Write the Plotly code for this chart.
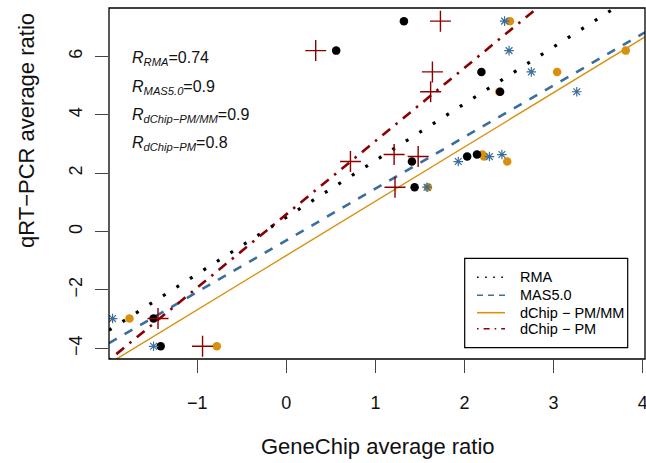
import plotly.graph_objects as go

# ---- data ----
qpcr = [7.21, 6.20, 5.47, 4.79, 2.64, 2.57, 2.40, 1.52, -2.98, -3.93]
rma = [1.32, 0.56, 2.19, 2.40, 2.14, 2.03, 1.41, 1.44, -1.49, -1.41]
mas5 = [2.45, 2.50, 2.75, 3.26, 2.42, 2.28, 1.93, 1.58, -1.95, -1.49]
dchip_pmmm = [2.51, 3.81, 3.04, 2.39, 2.20, 2.22, 2.48, 1.59, -1.76, -0.78]
dchip_pm = [1.73, 0.33, 1.64, 1.62, 1.21, 1.48, 0.72, 1.22, -1.44, -0.94]

method_names = ["RMA", "MAS5.0", "dChip − PM/MM", "dChip − PM"]
fit_intercepts = [0.49, -0.30, -0.82, 0.59]
fit_slopes = [1.945, 1.77, 1.86, 2.51]
r_labels = ["RMA", "MAS5.0", "dChip−PM/MM", "dChip−PM"]
r_values = ["0.74", "0.9", "0.9", "0.8"]

x_ticks = [-1, 0, 1, 2, 3, 4]
y_ticks = [-4, -2, 0, 2, 4, 6]
x_range = [-1.99, 4.026]
y_range = [-4.365, 7.66]

# ---- styles ----
BLACK = "#000000"
BLUE = "#3A6E9C"
ORANGE = "#D9900E"
RED = "#8B0000"
FONT = "Liberation Sans, Arial, sans-serif"
line_styles = [
    dict(color=BLACK, width=3.2, dash="3px,13px"),
    dict(color=BLUE, width=2.6, dash="9px,9px"),
    dict(color=ORANGE, width=1.4, dash="solid"),
    dict(color=RED, width=2.6, dash="2.5px,7px,10px,7px"),
]

fig = go.Figure()

# regression lines across the full x range
for b0, b1, st in zip(fit_intercepts, fit_slopes, line_styles):
    fig.add_trace(go.Scatter(
        x=x_range, y=[b0 + b1 * x_range[0], b0 + b1 * x_range[1]],
        mode="lines", line=st, hoverinfo="skip", showlegend=False))

# points
fig.add_trace(go.Scatter(x=dchip_pmmm, y=qpcr, mode="markers",
                         marker=dict(symbol="circle", size=8.5, color=ORANGE, line=dict(width=0)),
                         showlegend=False))
fig.add_trace(go.Scatter(x=rma, y=qpcr, mode="markers",
                         marker=dict(symbol="circle", size=8.5, color=BLACK, line=dict(width=0)),
                         showlegend=False))
fig.add_trace(go.Scatter(x=mas5, y=qpcr, mode="markers",
                         marker=dict(symbol="asterisk-open", size=8, color=BLUE,
                                     line=dict(width=1.2, color=BLUE)),
                         showlegend=False))
fig.add_trace(go.Scatter(x=dchip_pm, y=qpcr, mode="markers",
                         marker=dict(symbol="cross-thin-open", size=15, color=RED,
                                     line=dict(width=1.4, color=RED)),
                         showlegend=False))

shapes = []
annotations = []

# plot box
shapes.append(dict(type="rect", xref="paper", yref="paper", x0=0, x1=1, y0=0, y1=1,
                   line=dict(color=BLACK, width=1.3), fillcolor="rgba(0,0,0,0)", layer="above"))

# legend box (manual, R style)
shapes.append(dict(type="rect", xref="paper", yref="paper", x0=0.6636, x1=0.9677,
                   y0=0.0322, y1=0.2869, line=dict(color=BLACK, width=1.2),
                   fillcolor="white", layer="above"))
leg_rows = [0.2328, 0.1815, 0.1319, 0.0863]
leg_styles = [
    dict(color=BLACK, width=1.6, dash="1.6px,6.5px"),
    dict(color=BLUE, width=1.6, dash="6px,5px"),
    dict(color=ORANGE, width=1.6, dash="solid"),
    dict(color=RED, width=1.6, dash="1.6px,5px,6px,5px"),
]
for yy, name, st in zip(leg_rows, method_names, leg_styles):
    shapes.append(dict(type="line", xref="paper", yref="paper", x0=0.6866, x1=0.7388,
                       y0=yy, y1=yy, line=st, layer="above"))
    annotations.append(dict(xref="paper", yref="paper", x=0.7636, y=yy, text=name,
                            showarrow=False, xanchor="left", yanchor="middle",
                            font=dict(family=FONT, size=14.5, color=BLACK)))

# correlation labels
r_rows = [0.8556, 0.7721, 0.6943, 0.6134]
for yy, lab, val in zip(r_rows, r_labels, r_values):
    annotations.append(dict(xref="paper", yref="paper", x=0.040, y=yy,
                            text=f"<i>R</i><sub><i>{lab}</i></sub>=" + val,
                            showarrow=False, xanchor="left", yanchor="middle",
                            font=dict(family=FONT, size=16, color="#111111")))

# axis titles
annotations.append(dict(xref="paper", yref="paper", x=0.501, y=-0.2507,
                        text="GeneChip average ratio", showarrow=False,
                        xanchor="center", yanchor="middle",
                        font=dict(family=FONT, size=22, color="#111111")))
annotations.append(dict(xref="paper", yref="paper", x=-0.1549, y=0.6524,
                        text="qRT−PCR average ratio", showarrow=False, textangle=-90,
                        xanchor="center", yanchor="middle",
                        font=dict(family=FONT, size=22, color="#111111")))

fig.update_layout(
    width=646, height=463,
    margin=dict(l=109, r=1, t=8, b=104, autoexpand=False),
    paper_bgcolor="white", plot_bgcolor="white",
    showlegend=False,
    shapes=shapes, annotations=annotations,
    xaxis=dict(range=x_range, tickvals=x_ticks, ticks="outside", ticklen=13,
               tickwidth=1.2, tickcolor="#444444", showgrid=False, zeroline=False,
               showline=False, automargin=False, ticklabeloverflow="allow",
               tickfont=dict(family=FONT, size=18, color="#111111"),
               ticklabelstandoff=14),
    yaxis=dict(range=y_range, tickvals=y_ticks, ticks="outside", ticklen=13,
               tickwidth=1.2, tickcolor="#444444", showgrid=False, zeroline=False,
               showline=False, tickangle=-90, automargin=False, ticklabeloverflow="allow",
               tickfont=dict(family=FONT, size=18, color="#111111"),
               ticklabelstandoff=6),
)

fig.write_html("out.html", config={"displayModeBar": False},
               post_script="document.body.style.margin='0';")
